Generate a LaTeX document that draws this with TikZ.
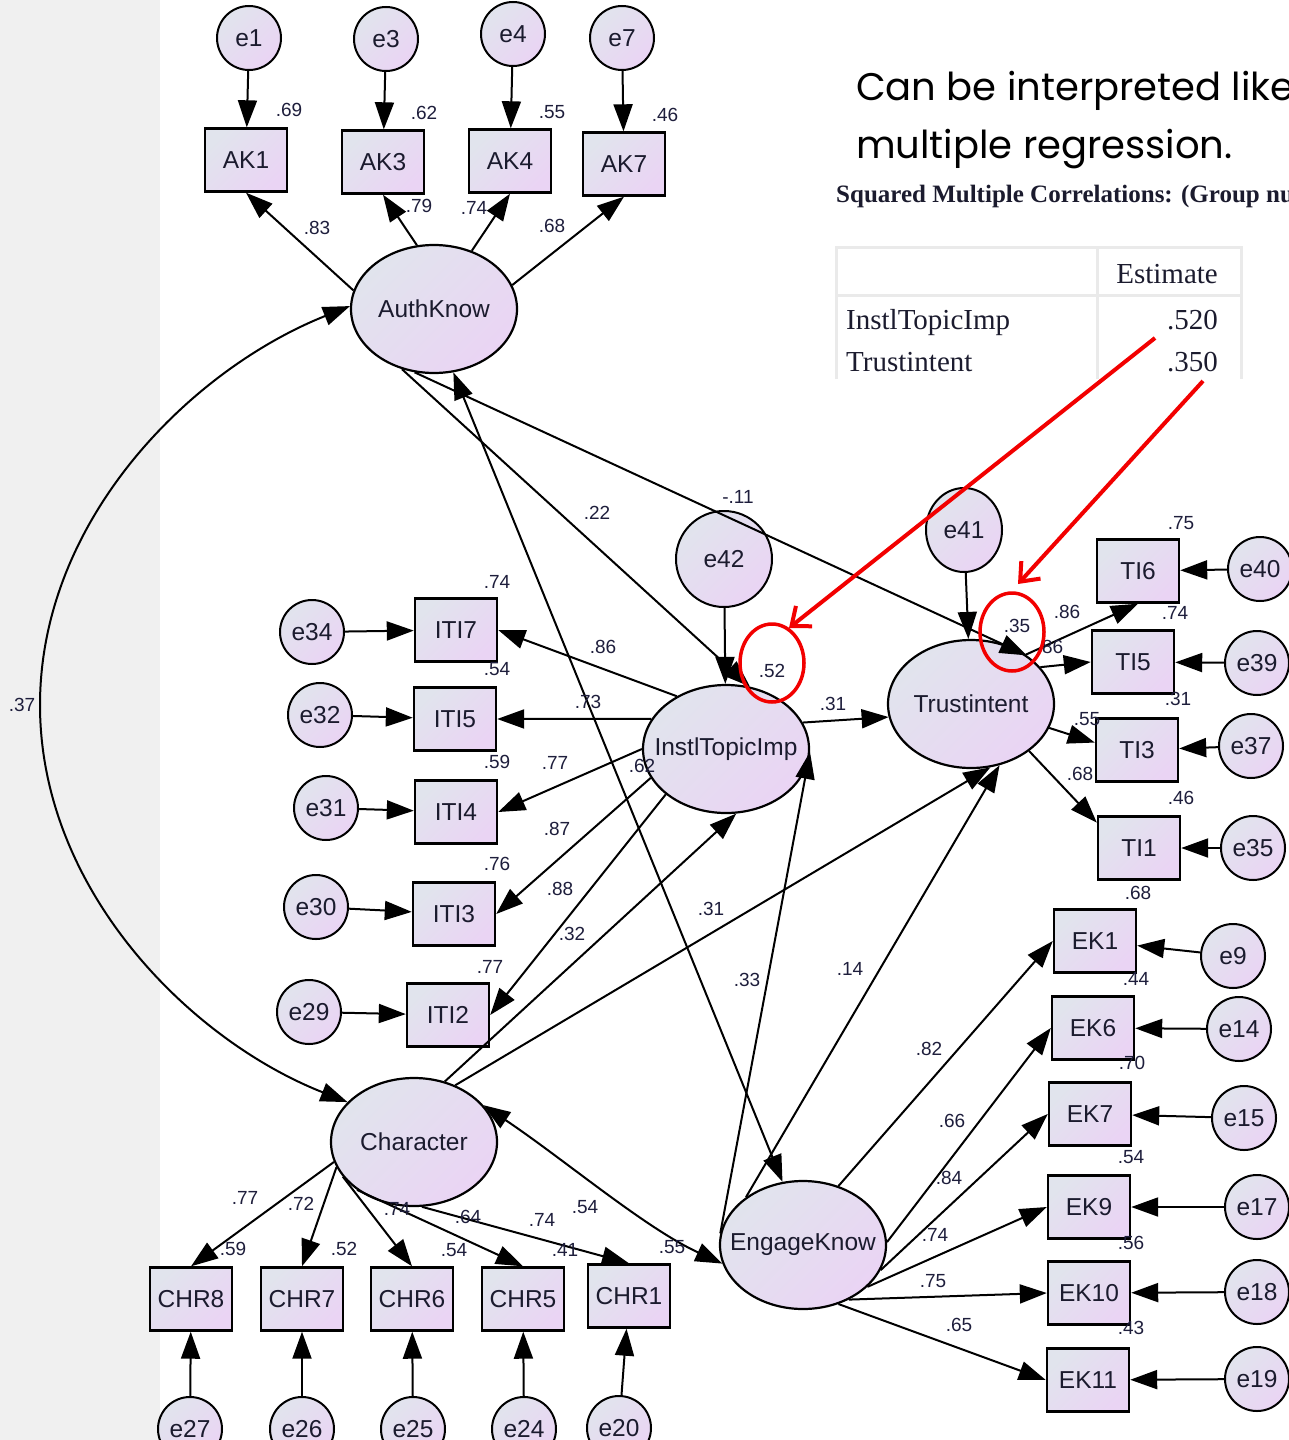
\documentclass[tikz,border=0pt]{standalone}
\usepackage{fontspec}
\setmainfont{Liberation Sans}
\newfontfamily\tablefont{Liberation Serif}
\newfontfamily\notefont{Poppins}
\usetikzlibrary{arrows.meta,shapes.geometric}

\definecolor{fillA}{HTML}{E1E4ED}
\definecolor{fillB}{HTML}{EAD4F4}
\definecolor{panelgray}{HTML}{F0F0F0}
\definecolor{gridgray}{HTML}{EAEAEA}
\definecolor{ink}{HTML}{1B1B2E}
\definecolor{coefink}{HTML}{1E1E3C}
\definecolor{markred}{HTML}{F20000}

% latent names are set in a zero-width box so the ellipse keeps its fixed size
\newcommand{\lvname}[1]{\makebox[0pt]{#1}}

\tikzset{
  gradfill/.style={top color=fillA, bottom color=fillB, shading angle=45},
  latent/.style={ellipse, draw=black, line width=2.2pt, gradfill,
    minimum width=166pt, minimum height=128pt, inner sep=0pt,
    font=\fontsize{24.5}{28}\selectfont, text=ink},
  obs/.style={rectangle, draw=black, line width=2.4pt, gradfill,
    minimum width=82pt, minimum height=63pt, inner sep=0pt,
    font=\fontsize{24.5}{28}\selectfont, text=ink},
  err/.style={circle, draw=black, line width=2pt, gradfill,
    minimum size=64pt, inner sep=0pt,
    font=\fontsize{24.5}{28}\selectfont, text=ink},
  reg/.style={line width=2pt, -{Triangle[length=27pt,width=19pt]}},
  cov/.style={line width=2pt,
    {Triangle[length=27pt,width=19pt]}-{Triangle[length=27pt,width=19pt]}},
  coef/.style={font=\fontsize{19}{21}\selectfont, text=coefink, inner sep=0pt},
  redarrow/.style={draw=markred, line width=4pt,
    -{Straight Barb[length=16pt,width=26pt]}},
  ring/.style={ellipse, draw=markred, line width=3.5pt,
    minimum width=64pt, minimum height=78pt, inner sep=0pt},
}

\begin{document}
\begin{tikzpicture}[x=1pt,y=-1pt]
\useasboundingbox (0,0) rectangle (1289,1440);
\fill[white] (0,0) rectangle (1289,1440);
\fill[panelgray] (0,0) rectangle (160,1440);

% ---------- text block and table ----------
\node[anchor=base west, inner sep=0pt, font=\notefont\fontsize{38.5}{46}\selectfont] (noteA) at (856,100) {Can be interpreted like};
\node[anchor=base west, inner sep=0pt, font=\notefont\fontsize{38.5}{46}\selectfont] (noteB) at (856,158) {multiple regression.};
\node[anchor=base west, inner sep=0pt, font=\tablefont\bfseries\fontsize{25}{28}\selectfont, text=ink] (smc) at (836,202) {Squared Multiple Correlations: (Group nu};

\draw[gridgray, line width=3pt] (836,379) -- (836,247) -- (1241,247) -- (1241,379);
\draw[gridgray, line width=3pt] (836,295) -- (1241,295);
\draw[gridgray, line width=3pt] (1097,247) -- (1097,379);
\begin{scope}[every node/.style={inner sep=0pt, font=\tablefont\fontsize{29}{32}\selectfont, text=ink}]
  \node[anchor=base east] (hdr) at (1218,283) {Estimate};
  \node[anchor=base west] (rowA) at (846,329) {InstlTopicImp};
  \node[anchor=base west] (rowB) at (846,371) {Trustintent};
  \node[anchor=base east] (valA) at (1218,329) {.520};
  \node[anchor=base east] (valB) at (1218,371) {.350};
\end{scope}

% ---------- latent variables ----------
\node[latent] (AuthKnow) at (434,309) {\lvname{AuthKnow}};
\node[latent] (InstlTopicImp) at (726,749) {\lvname{InstlTopicImp}};
\node[latent] (Trustintent) at (971,704) {\lvname{Trustintent}};
\node[latent] (Character) at (414,1142) {\lvname{Character}};
\node[latent] (EngageKnow) at (803,1245) {\lvname{EngageKnow}};

% ---------- AuthKnow indicators ----------
\node[obs] (AK1) at (246,160) {AK1};
\node[obs] (AK3) at (383,162) {AK3};
\node[obs] (AK4) at (510,161) {AK4};
\node[obs] (AK7) at (624,164) {AK7};
\node[err] (e1) at (249,38) {e1};
\node[err] (e3) at (386,39) {e3};
\node[err] (e4) at (513,34) {e4};
\node[err] (e7) at (622,38) {e7};

% ---------- InstlTopicImp indicators ----------
\node[obs] (ITI7) at (456,630) {ITI7};
\node[obs] (ITI5) at (455,719) {ITI5};
\node[obs] (ITI4) at (456,812) {ITI4};
\node[obs] (ITI3) at (454,914) {ITI3};
\node[obs] (ITI2) at (448,1015) {ITI2};
\node[err] (e34) at (312,632) {e34};
\node[err] (e32) at (320,715) {e32};
\node[err] (e31) at (326,808) {e31};
\node[err] (e30) at (316,907) {e30};
\node[err] (e29) at (309,1012) {e29};

% ---------- Trustintent indicators ----------
\node[obs] (TI6) at (1138,571) {TI6};
\node[obs] (TI5) at (1133,662) {TI5};
\node[obs] (TI3) at (1137,750) {TI3};
\node[obs] (TI1) at (1139,848) {TI1};
\node[err] (e40) at (1260,569) {e40};
\node[err] (e39) at (1257,663) {e39};
\node[err] (e37) at (1251,746) {e37};
\node[err] (e35) at (1253,848) {e35};

% ---------- EngageKnow indicators ----------
\node[obs] (EK1) at (1095,941) {EK1};
\node[obs] (EK6) at (1093,1028) {EK6};
\node[obs] (EK7) at (1090,1114) {EK7};
\node[obs] (EK9) at (1089,1207) {EK9};
\node[obs] (EK10) at (1089,1293) {EK10};
\node[obs] (EK11) at (1088,1380) {EK11};
\node[err] (e9) at (1233,956) {e9};
\node[err] (e14) at (1239,1029) {e14};
\node[err] (e15) at (1244,1118) {e15};
\node[err] (e17) at (1257,1207) {e17};
\node[err] (e18) at (1257,1292) {e18};
\node[err] (e19) at (1257,1379) {e19};

% ---------- Character indicators ----------
\node[obs] (CHR8) at (191,1299) {CHR8};
\node[obs] (CHR7) at (302,1299) {CHR7};
\node[obs] (CHR6) at (412,1299) {CHR6};
\node[obs] (CHR5) at (523,1299) {CHR5};
\node[obs] (CHR1) at (629,1296) {CHR1};
\node[err] (e27) at (190,1429) {e27};
\node[err] (e26) at (302,1429) {e26};
\node[err] (e25) at (413,1429) {e25};
\node[err] (e24) at (524,1429) {e24};
\node[err] (e20) at (619,1428) {e20};

% ---------- disturbances ----------
\node[err, minimum size=96pt] (e42) at (724,559) {e42};
\node[err, ellipse, minimum width=76pt, minimum height=84pt] (e41) at (964,530) {e41};

% ---------- error terms to indicators ----------
\foreach \a/\b in {e1/AK1, e3/AK3, e4/AK4, e7/AK7,
                   e34/ITI7, e32/ITI5, e31/ITI4, e30/ITI3, e29/ITI2,
                   e40/TI6, e39/TI5, e37/TI3, e35/TI1,
                   e9/EK1, e14/EK6, e15/EK7, e17/EK9, e18/EK10, e19/EK11,
                   e27/CHR8, e26/CHR7, e25/CHR6, e24/CHR5, e20/CHR1,
                   e42/InstlTopicImp, e41/Trustintent}
  \draw[reg] (\a) -- (\b);

% ---------- loadings ----------
\draw[reg] (AuthKnow.167) -- (AK1.south);
\draw[reg] (AuthKnow.105) -- (AK3.south);
\draw[reg] (AuthKnow.57) -- (AK4.south);
\draw[reg] (AuthKnow.17) -- (AK7.south);

\draw[reg] (InstlTopicImp.133) -- (ITI7.east);
\draw[reg] (InstlTopicImp.158) -- (ITI5.east);
\draw[reg] (InstlTopicImp.180) -- (ITI4.east);
\draw[reg] (InstlTopicImp.-159) -- (ITI3.east);
\draw[reg] (InstlTopicImp.-143) -- (ITI2.east);

\draw[reg] (Trustintent.42) -- (TI6.south);
\draw[reg] (Trustintent.28) -- (TI5.west);
\draw[reg] (Trustintent.-17) -- (TI3.170);
\draw[reg] (Trustintent.-39) -- (TI1.149);

\draw[reg] (EngageKnow.59) -- (EK1.west);
\draw[reg] (EngageKnow.2) -- (EK6.west);
\draw[reg] (EngageKnow.-18) -- (EK7.west);
\draw[reg] (EngageKnow.-33) -- (EK9.west);
\draw[reg] (EngageKnow.-50) -- (EK10.west);
\draw[reg] (EngageKnow.-59) -- (EK11.west);

\draw[reg] (Character.-166) -- (CHR8.north);
\draw[reg] (Character.-162) -- (CHR7.north);
\draw[reg] (Character.-154) -- (CHR6.north);
\draw[reg] (Character.-140) -- (CHR5.north);
\draw[reg] (Character.-83) -- (CHR1.north);

% ---------- structural paths ----------
\draw[reg] (AuthKnow.-118) -- (InstlTopicImp.69);
\draw[reg] (AuthKnow.-107) -- (Trustintent.41);
\draw[reg] (Character.63) -- (InstlTopicImp.-81);
\draw[reg] (Character.54) -- (Trustintent.-73);
\draw[reg] (EngageKnow.172) -- (InstlTopicImp.-2);
\draw[reg] (EngageKnow.140) -- (Trustintent.-65);
\draw[reg] (InstlTopicImp.19) -- (Trustintent.189);

% ---------- covariances ----------
\draw[cov] (AuthKnow.-73) -- (EngageKnow.108);
\draw[cov] (AuthKnow.178) .. controls (190,370) and (40,520) .. (40,705)
                           .. controls (40,890) and (190,1040) .. (Character.149);
\draw[cov] (Character.28) .. controls (565,1160) and (645,1228) .. (EngageKnow.193);

% ---------- estimates ----------
\foreach \t/\x/\y [count=\i] in {
  .69/289/110, .62/424/113, .55/552/112, .46/665/115,
  .83/317/228, .79/419/206, .74/474/208, .68/552/226,
  .74/497/582, .54/497/669, .59/497/762, .76/497/864, .77/490/967,
  .86/603/647, .73/588/702, .77/555/763, .62/642/766, .87/557/829,
  .88/560/889, .32/572/934,
  .22/597/513, -.11/738/497, .52/772/671, .31/833/704, .35/1017/626,
  .31/711/909, .33/747/980, .14/850/969,
  .75/1181/523, .86/1067/612, .74/1175/613, .86/1050/647, .31/1178/699,
  .55/1087/719, .68/1080/774, .46/1181/798,
  .68/1138/893, .44/1136/979, .70/1132/1063, .54/1131/1157, .56/1131/1243,
  .43/1131/1328,
  .82/929/1049, .66/952/1121, .84/949/1178, .74/935/1235, .75/933/1281,
  .65/959/1325,
  .77/245/1198, .72/301/1204, .74/397/1209, .64/468/1217, .74/542/1220,
  .54/585/1207, .59/233/1249, .52/344/1249, .54/454/1250, .41/565/1250,
  .55/672/1247, .37/22/705}
  \node[coef] (est\i) at (\x,\y) {\t};

% ---------- highlights ----------
\node[ring] (ringA) at (772,663) {};
\node[ring] (ringB) at (1012,632) {};
\coordinate (ptrA0) at (1155,338);
\coordinate (ptrA1) at (789,628);
\coordinate (ptrB0) at (1203,381);
\coordinate (ptrB1) at (1018,584);
\draw[redarrow] (ptrA0) -- (ptrA1);
\draw[redarrow] (ptrB0) -- (ptrB1);
\end{tikzpicture}
\end{document}
